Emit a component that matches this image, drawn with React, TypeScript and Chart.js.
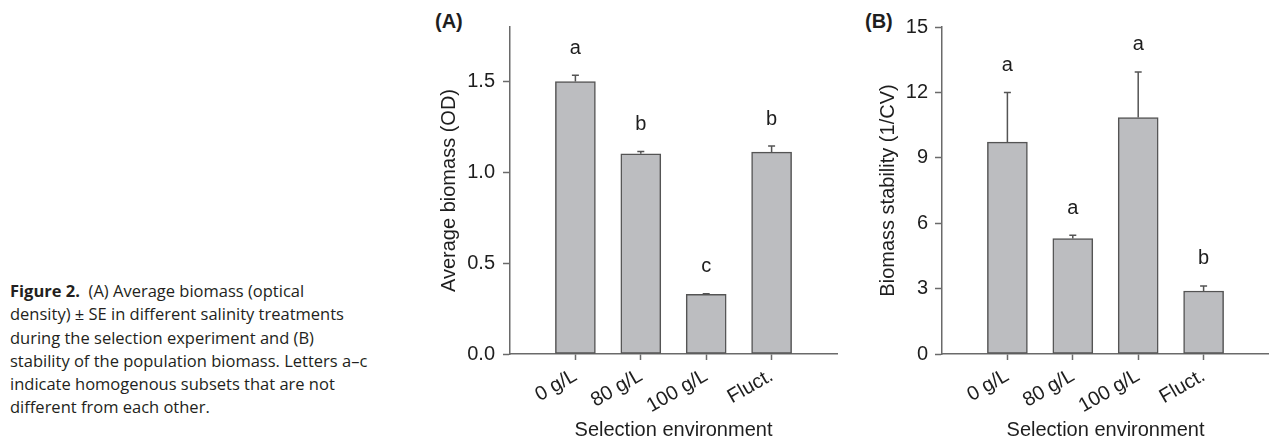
import React, { useEffect, useRef } from 'react';
import { Chart, registerables } from 'chart.js';

Chart.register(...registerables);

// ---- data ----
const categories = ['0 g/L', '80 g/L', '100 g/L', 'Fluct.'];

const biomassValues = [1.5, 1.102, 0.329, 1.111];
const biomassSE = [0.035, 0.013, 0.003, 0.034];
const biomassLetters = ['a', 'b', 'c', 'b'];
const biomassTickLabels = ['0.0', '0.5', '1.0', '1.5'];

const stabilityValues = [9.72, 5.3, 10.85, 2.89];
const stabilitySE = [2.28, 0.15, 2.09, 0.23];
const stabilityLetters = ['a', 'a', 'a', 'b'];
const stabilityTickLabels = ['0', '3', '6', '9', '12', '15'];

const FONT = "'Liberation Sans', Arial, Helvetica, sans-serif";
const TEXT = '#1e1e1e';
const AXIS = '#6a6a6a';
const BAR_FILL = '#bcbdc0';
const BAR_EDGE = '#545454';

const errLetterPlugin = {
  id: 'errLetters',
  afterDatasetsDraw(chart: any, _args: any, opts: any) {
    const { ctx } = chart;
    const meta = chart.getDatasetMeta(0);
    const y = chart.scales.y;
    const data = chart.data.datasets[0].data;
    ctx.save();
    meta.data.forEach((bar: any, i: number) => {
      const k = i - 1;
      if (k < 0 || k >= opts.se.length) return;
      const v = data[i];
      const yBar = y.getPixelForValue(v);
      const yTop = y.getPixelForValue(v + opts.se[k]);
      ctx.strokeStyle = BAR_EDGE;
      ctx.lineWidth = 1.5;
      ctx.beginPath();
      ctx.moveTo(bar.x, yBar);
      ctx.lineTo(bar.x, yTop);
      ctx.moveTo(bar.x - 3.5, yTop);
      ctx.lineTo(bar.x + 3.5, yTop);
      ctx.stroke();
      ctx.fillStyle = TEXT;
      ctx.font = `20px ${FONT}`;
      ctx.textAlign = 'center';
      ctx.textBaseline = 'middle';
      ctx.fillText(opts.letters[k], bar.x, yTop - 27);
    });
    ctx.restore();
  },
};

type PanelProps = {
  left: number;
  width: number;
  values: number[];
  se: number[];
  letters: string[];
  tickLabels: string[];
  yMax: number;
  yStep: number;
  yTitle: string;
  axisWidth: number;
  yTitlePad: number;
  yTickPad: number;
  padRight: number;
};

function BarPanel(p: PanelProps) {
  const ref = useRef<HTMLCanvasElement | null>(null);
  useEffect(() => {
    if (!ref.current) return;
    const labels = ['', ...categories, ''];
    const data = [null, ...p.values, null];
    const chart = new Chart(ref.current, {
      type: 'bar',
      data: {
        labels,
        datasets: [
          {
            data: data as any,
            backgroundColor: BAR_FILL,
            borderColor: BAR_EDGE,
            borderWidth: 1.5,
            borderSkipped: false,
            barThickness: 40,
          },
        ],
      },
      plugins: [errLetterPlugin],
      options: {
        responsive: false,
        animation: false,
        devicePixelRatio: 1,
        layout: { padding: { left: 0, top: 27, right: p.padRight, bottom: 0 } },
        plugins: {
          legend: { display: false },
          tooltip: { enabled: false },
          errLetters: { se: p.se, letters: p.letters },
        } as any,
        scales: {
          x: {
            type: 'category',
            offset: false,
            grid: {
              display: true,
              offset: false,
              drawOnChartArea: false,
              drawTicks: true,
              tickLength: 6,
              tickWidth: 1.5,
              tickColor: (c: any) =>
                c.index === 0 || c.index === labels.length - 1 ? 'rgba(0,0,0,0)' : AXIS,
            },
            border: { display: true, color: AXIS, width: 1.5 },
            ticks: {
              autoSkip: false,
              minRotation: 30,
              maxRotation: 30,
              padding: 4,
              color: TEXT,
              font: { family: FONT, size: 20 },
            },
            title: {
              display: true,
              text: 'Selection environment',
              color: TEXT,
              font: { family: FONT, size: 20 },
              padding: { top: 0, bottom: 0 },
            },
            afterFit: (s: any) => {
              s.height = 88;
            },
          },
          y: {
            type: 'linear',
            min: 0,
            max: p.yMax,
            grid: {
              drawOnChartArea: false,
              drawTicks: true,
              tickLength: 7,
              tickWidth: 1.5,
              tickColor: AXIS,
            },
            border: { display: true, color: AXIS, width: 1.5 },
            ticks: {
              stepSize: p.yStep,
              includeBounds: false,
              padding: p.yTickPad,
              color: TEXT,
              font: { family: FONT, size: 20 },
              callback: (_v: any, i: number) => p.tickLabels[i],
            },
            title: {
              display: true,
              text: p.yTitle,
              color: TEXT,
              font: { family: FONT, size: 20 },
              padding: { top: p.yTitlePad, bottom: 0 },
            },
            afterFit: (s: any) => {
              s.width = p.axisWidth;
            },
          },
        },
      } as any,
    });
    return () => chart.destroy();
  }, []);
  return (
    <canvas
      ref={ref}
      width={p.width}
      height={442}
      style={{ position: 'absolute', left: p.left, top: 0, width: p.width, height: 442, display: 'block' }}
    />
  );
}

export default function App() {
  const panelLabel: React.CSSProperties = {
    position: 'absolute',
    top: 11,
    fontFamily: FONT,
    fontWeight: 'bold',
    fontSize: 20,
    lineHeight: '20px',
    color: TEXT,
  };
  return (
    <div
      style={{
        position: 'absolute',
        left: 0,
        top: 0,
        width: 1269,
        height: 442,
        background: '#fff',
        overflow: 'hidden',
      }}
    >
      <div
        style={{
          position: 'absolute',
          left: 10,
          top: 279,
          fontFamily: "'Open Sans', 'Noto Sans', sans-serif",
          fontSize: 16.5,
          lineHeight: '23.3px',
          color: '#231f20',
          whiteSpace: 'nowrap',
        }}
      >
        <b>Figure 2.</b>&nbsp; (A) Average biomass (optical
        <br />
        density) ± SE in different salinity treatments
        <br />
        during the selection experiment and (B)
        <br />
        stability of the population biomass. Letters a–c
        <br />
        indicate homogenous subsets that are not
        <br />
        different from each other.
      </div>
      <div style={{ ...panelLabel, left: 435 }}>(A)</div>
      <div style={{ ...panelLabel, left: 865 }}>(B)</div>
      <BarPanel
        left={380}
        width={480}
        values={biomassValues}
        se={biomassSE}
        letters={biomassLetters}
        tickLabels={biomassTickLabels}
        yMax={1.8}
        yStep={0.5}
        yTitle="Average biomass (OD)"
        axisWidth={130}
        yTitlePad={57}
        yTickPad={8}
        padRight={23}
      />
      <BarPanel
        left={810}
        width={480}
        values={stabilityValues}
        se={stabilitySE}
        letters={stabilityLetters}
        tickLabels={stabilityTickLabels}
        yMax={15}
        yStep={3}
        yTitle="Biomass stability (1/CV)"
        axisWidth={132}
        yTitlePad={66}
        yTickPad={7}
        padRight={21}
      />
    </div>
  );
}
